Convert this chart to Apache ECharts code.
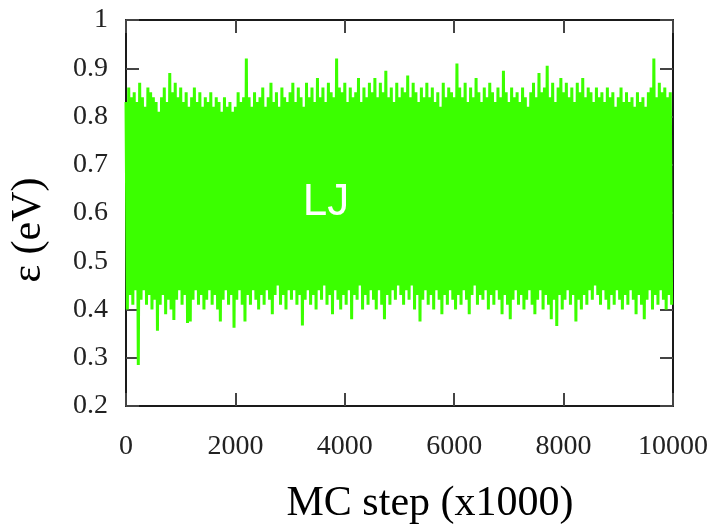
<!DOCTYPE html>
<html>
<head>
<meta charset="utf-8">
<script src="https://cdn.jsdelivr.net/npm/echarts@6/dist/echarts.min.js"></script>
<style>html,body{margin:0;padding:0;background:#fff}#c{width:711px;height:526px}</style>
</head>
<body>
<div id="c"></div>
<script>
// MC step spacing between sampled maxima (x1000 steps); a minimum sits halfway between
var stepSpacing = 50;
// Upper envelope (local maxima), one every 50 steps from 0
var highs = [
0.83,0.86,0.84,0.85,0.83,0.87,0.84,0.82,0.86,0.85,
0.84,0.83,0.81,0.84,0.86,0.83,0.89,0.85,0.87,0.84,
0.86,0.83,0.85,0.82,0.84,0.86,0.83,0.85,0.82,0.84,
0.83,0.85,0.82,0.84,0.83,0.81,0.84,0.82,0.83,0.81,
0.82,0.85,0.83,0.84,0.92,0.84,0.82,0.85,0.83,0.84,
0.86,0.82,0.84,0.87,0.83,0.85,0.82,0.86,0.84,0.83,
0.85,0.87,0.83,0.86,0.84,0.82,0.87,0.84,0.86,0.83,
0.88,0.84,0.86,0.83,0.87,0.85,0.84,0.92,0.86,0.85,
0.87,0.83,0.86,0.84,0.85,0.88,0.83,0.86,0.84,0.87,
0.85,0.88,0.84,0.87,0.85,0.895,0.84,0.86,0.83,0.87,
0.84,0.86,0.85,0.885,0.84,0.87,0.85,0.83,0.86,0.84,
0.87,0.84,0.86,0.83,0.85,0.82,0.87,0.84,0.86,0.85,
0.84,0.91,0.86,0.84,0.87,0.83,0.86,0.84,0.88,0.85,
0.83,0.86,0.84,0.87,0.85,0.83,0.86,0.84,0.895,0.85,
0.83,0.86,0.84,0.85,0.83,0.86,0.84,0.82,0.85,0.87,
0.84,0.89,0.85,0.86,0.905,0.84,0.87,0.83,0.86,0.88,
0.85,0.87,0.84,0.86,0.83,0.87,0.85,0.88,0.84,0.86,
0.85,0.83,0.86,0.84,0.85,0.83,0.86,0.84,0.85,0.82,
0.84,0.86,0.83,0.85,0.83,0.84,0.82,0.85,0.83,0.84,
0.82,0.85,0.86,0.92,0.84,0.87,0.85,0.86,0.84,0.85
];
// Lower envelope (local minima), one every 50 steps from 25
var lows = [
0.40,0.43,0.41,0.44,0.285,0.42,0.44,0.41,0.43,0.40,
0.42,0.356,0.41,0.43,0.39,0.42,0.40,0.378,0.42,0.44,
0.41,0.43,0.372,0.375,0.42,0.44,0.41,0.43,0.40,0.42,
0.44,0.41,0.43,0.40,0.375,0.42,0.44,0.41,0.43,0.362,
0.42,0.44,0.41,0.375,0.43,0.41,0.44,0.42,0.40,0.43,
0.41,0.44,0.42,0.39,0.43,0.45,0.41,0.43,0.40,0.44,
0.42,0.44,0.41,0.43,0.367,0.42,0.44,0.41,0.43,0.40,
0.44,0.42,0.45,0.41,0.43,0.39,0.44,0.42,0.40,0.43,
0.41,0.44,0.38,0.43,0.42,0.45,0.40,0.43,0.41,0.44,
0.42,0.40,0.44,0.41,0.38,0.43,0.41,0.44,0.42,0.45,
0.43,0.41,0.44,0.42,0.45,0.40,0.43,0.375,0.42,0.44,
0.41,0.43,0.40,0.44,0.42,0.39,0.43,0.41,0.44,0.42,
0.40,0.43,0.41,0.44,0.42,0.39,0.43,0.45,0.41,0.43,
0.42,0.44,0.40,0.43,0.41,0.44,0.42,0.39,0.43,0.41,
0.38,0.42,0.44,0.41,0.43,0.40,0.42,0.44,0.41,0.39,
0.42,0.44,0.40,0.43,0.41,0.38,0.42,0.366,0.43,0.40,
0.42,0.44,0.41,0.43,0.375,0.42,0.40,0.43,0.41,0.44,
0.42,0.45,0.43,0.41,0.44,0.42,0.40,0.43,0.41,0.44,
0.42,0.40,0.43,0.41,0.44,0.42,0.39,0.43,0.41,0.38,
0.42,0.44,0.40,0.43,0.41,0.44,0.42,0.40,0.43,0.41
];
var xTicks = [0, 2000, 4000, 6000, 8000, 10000];
var yTicks = [0.2, 0.3, 0.4, 0.5, 0.6, 0.7, 0.8, 0.9, 1];
var xTitle = 'MC step (x1000)';
var yTitle = 'ε (eV)';
var seriesLabel = 'LJ';

var data = [];
for (var i = 0; i < highs.length; i++) {
  data.push([i * stepSpacing, highs[i]]);
  data.push([i * stepSpacing + stepSpacing / 2, lows[i]]);
}

var serif = '"Liberation Serif","DejaVu Serif",serif';
var lineCol = '#1a1a1a';
var tickCol = '#444';

function xAx(pos, show) {
  return {
    type: 'value', position: pos, min: xTicks[0], max: xTicks[xTicks.length - 1],
    interval: xTicks[1] - xTicks[0],
    axisLine: { show: true, onZero: false, lineStyle: { color: lineCol, width: 2 } },
    axisTick: { show: true, inside: true, length: 13, lineStyle: { color: tickCol, width: 2 } },
    axisLabel: { show: show, margin: 27, fontFamily: serif, fontSize: 28, color: '#222',
      showMaxLabel: true, showMinLabel: true,
      formatter: function (v) { return String(v); } },
    splitLine: { show: false }
  };
}
function yAx(pos, show) {
  return {
    type: 'value', position: pos, min: yTicks[0], max: yTicks[yTicks.length - 1],
    interval: 0.1,
    axisLine: { show: true, onZero: false, lineStyle: { color: lineCol, width: 2 } },
    axisTick: { show: true, inside: true, length: 13, lineStyle: { color: tickCol, width: 2 } },
    axisLabel: { show: show, margin: 18, fontFamily: serif, fontSize: 28, color: '#222',
      formatter: function (v) { return String(Math.round(v * 10) / 10); } },
    splitLine: { show: false }
  };
}

var chart = echarts.init(document.getElementById('c'), null, { renderer: 'canvas' });
chart.setOption({
  animation: false,
  backgroundColor: '#fff',
  grid: { left: 126, right: 38, top: 20, bottom: 120, containLabel: false },
  xAxis: [xAx('bottom', true), xAx('top', false)],
  yAxis: [yAx('left', true), yAx('right', false)],
  series: [{
    type: 'line', xAxisIndex: 0, yAxisIndex: 0, data: data,
    showSymbol: false, symbol: 'none', clip: true,
    lineStyle: { color: '#3bff00', width: 3, join: 'bevel' },
    z: 1
  }],
  graphic: [
    { type: 'text', x: 430, y: 504, z: 10,
      style: { text: xTitle, fontFamily: serif, fontSize: 42, fill: '#000', textAlign: 'center', textVerticalAlign: 'middle' } },
    { type: 'text', x: 29, y: 230, rotation: Math.PI / 2, z: 10,
      style: { text: yTitle, fontFamily: serif, fontSize: 42, fill: '#000', textAlign: 'center', textVerticalAlign: 'middle' } },
    { type: 'text', x: 326, y: 203, z: 10,
      style: { text: seriesLabel, fontFamily: '"Liberation Sans",Arial,sans-serif', fontSize: 44, fill: '#fff', textAlign: 'center', textVerticalAlign: 'middle' } }
  ]
});
</script>
</body>
</html>
